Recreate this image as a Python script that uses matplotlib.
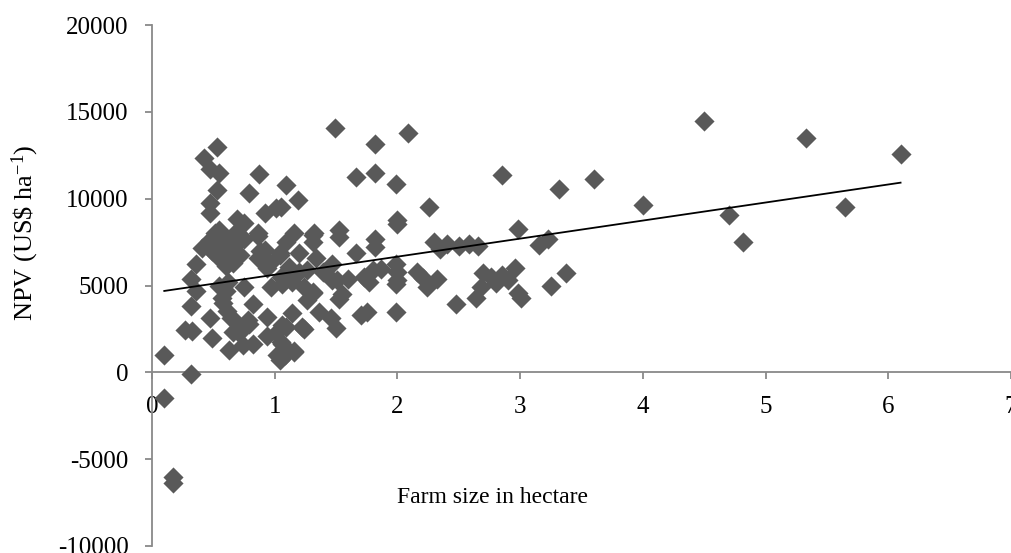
import numpy as np
import matplotlib
matplotlib.use("Agg")
import matplotlib.pyplot as plt

# Farm size (ha) and net present value (US$ per ha) for each surveyed farm
farm_size = [
    0.10, 0.10, 0.32, 0.17, 0.17,
    0.27, 0.33, 0.32, 0.32, 0.36, 0.36, 0.41,
    0.53, 0.42, 0.47, 0.55, 0.53, 0.47, 0.47, 0.51, 0.45, 0.51, 0.49, 0.47,
    0.55, 0.58, 0.62, 0.60, 0.56, 0.58, 0.66, 0.70, 0.72, 0.64, 0.68, 0.75,
    0.53, 0.60, 0.69, 0.75, 0.66,
    0.47, 0.49, 0.57, 0.60, 0.62, 0.58, 0.61, 0.64, 0.67, 0.63, 0.66, 0.71,
    0.74, 0.75, 0.79, 0.82, 0.82, 0.78, 0.55,
    0.87, 0.79, 0.92, 1.01, 0.86, 0.86, 0.88, 0.86, 0.92, 0.94, 0.96, 1.04,
    1.04, 0.94, 0.94, 1.02, 1.01, 1.06, 1.04, 1.09, 0.97, 1.06, 1.14, 1.05,
    1.09, 1.19, 1.05, 1.16, 1.09,
    1.12, 1.20, 1.26, 1.24, 1.31, 1.26, 1.20, 1.34, 1.40, 1.47, 1.47, 1.31,
    1.32, 1.31, 1.14, 1.31, 1.14, 1.06, 1.16, 1.05, 1.08, 1.16, 1.22, 1.24,
    1.36, 1.46, 1.50, 1.52, 1.51, 1.39, 1.52, 1.52, 1.49,
    1.66, 1.82, 1.99, 1.87, 1.77, 1.99, 1.70, 1.75, 1.99, 1.66, 1.82, 1.99,
    1.82, 2.09, 2.00, 2.00, 1.82, 1.60, 1.55, 1.80, 2.00, 2.00, 1.73,
    2.26, 2.85, 3.32, 2.98, 2.30, 2.35, 2.40, 2.50, 2.58, 2.66, 3.15, 3.23,
    2.21, 2.32, 2.24, 2.16, 2.70, 2.85, 2.96, 2.80, 2.68, 2.64, 2.98, 3.01,
    2.48, 3.25, 3.37, 2.76, 2.90, 3.60,
    4.00, 4.50, 4.70, 4.82, 5.33, 5.65, 6.10,
]
npv = [
    1000, -1500, -100, -6000, -6400,
    2450, 2400, 3800, 5400, 6250, 4700, 7150,
    12950, 12350, 11700, 11500, 10500, 9750, 9200, 8050, 7300, 7500, 7000, 7600,
    8200, 7900, 7300, 7700, 7000, 6450, 6300, 7600, 6750, 6900, 8000, 7700,
    6700, 6100, 8850, 8600, 7200,
    3100, 1950, 4300, 4700, 5200, 4000, 3550, 3150, 3000, 1300, 2300, 2250,
    1550, 4900, 2800, 3950, 1650, 3000, 5000,
    11400, 10300, 9200, 9450, 8000, 7850, 7000, 6600, 7050, 6000, 6300, 6850,
    6750, 3200, 2100, 1000, 2250, 1650, 700, 2600, 4900, 5100, 5450, 5500,
    10800, 9950, 9500, 8050, 7500,
    6050, 5750, 5900, 4900, 4550, 4150, 6850, 6600, 5750, 6250, 5300, 7500,
    8000, 7900, 5200, 4600, 3400, 2700, 1250, 1750, 1000, 1150, 2600, 2500,
    3450, 3100, 2550, 4250, 5300, 5750, 7800, 8200, 14050,
    6850, 7200, 6250, 5950, 5200, 5100, 3300, 3450, 3450, 11250, 11450, 10850,
    13150, 13800, 8800, 8550, 7650, 5400, 4500, 5900, 5800, 5300, 5500,
    9500, 11350, 10550, 8250, 7500, 7100, 7400, 7300, 7400, 7300, 7350, 7700,
    5450, 5400, 4900, 5800, 5700, 5600, 6000, 5150, 4900, 4300, 4550, 4300,
    3950, 5000, 5700, 5500, 5300, 11150,
    9650, 14500, 9050, 7500, 13500, 9500, 12550,
]

x_ticks = [0, 1, 2, 3, 4, 5, 6, 7]
y_ticks = [-10000, -5000, 0, 5000, 10000, 15000, 20000]

plt.rcParams["font.family"] = ["Liberation Serif", "DejaVu Serif"]
plt.rcParams["mathtext.fontset"] = "custom"
plt.rcParams["mathtext.rm"] = "Liberation Serif"
plt.rcParams["mathtext.it"] = "Liberation Serif:italic"

fig = plt.figure(figsize=(10.12, 5.53), dpi=100)
ax = fig.add_axes([152 / 1012, 1 - 546 / 553, 859 / 1012, 521 / 553])

x = np.asarray(farm_size)
y = np.asarray(npv)

ax.scatter(x, y, marker="D", s=105, color="#595959", linewidths=0, zorder=3)

# Linear trend line over the observed range of farm sizes
slope, intercept = np.polyfit(x, y, 1)
xt = np.array([x.min(), x.max()])
ax.plot(xt, slope * xt + intercept, color="black", lw=1.3, zorder=4)

ax.set_xlim(0, 7)
ax.set_ylim(-10000, 20000)
ax.set_xticks(x_ticks)
ax.set_yticks(y_ticks)
ax.set_xticklabels([str(t) for t in x_ticks])
ax.set_yticklabels([str(t) for t in y_ticks])

spine_color = "#898989"
for side in ("top", "right"):
    ax.spines[side].set_visible(False)
ax.spines["left"].set_color(spine_color)
ax.spines["bottom"].set_color(spine_color)
ax.spines["left"].set_linewidth(1.3)
ax.spines["bottom"].set_linewidth(1.3)
ax.spines["bottom"].set_position(("data", 0))

ax.tick_params(axis="x", direction="out", length=5, width=1.3, color=spine_color,
               labelsize=18, pad=12)
ax.tick_params(axis="y", direction="out", length=5, width=1.3, color=spine_color,
               labelsize=18, pad=12)

ax.set_xlabel("Farm size in hectare", fontsize=17)
ax.xaxis.set_label_coords(0.396, 0.094)
ax.xaxis.label.set_verticalalignment("center")

ax.set_ylabel(r"NPV (US\$ ha$^{\mathrm{-1}}$)", fontsize=19)
ax.yaxis.set_label_coords(-0.147, 0.602)
ax.yaxis.label.set_verticalalignment("center")

ax.patch.set_alpha(0)
fig.savefig("out.png", dpi=100)
